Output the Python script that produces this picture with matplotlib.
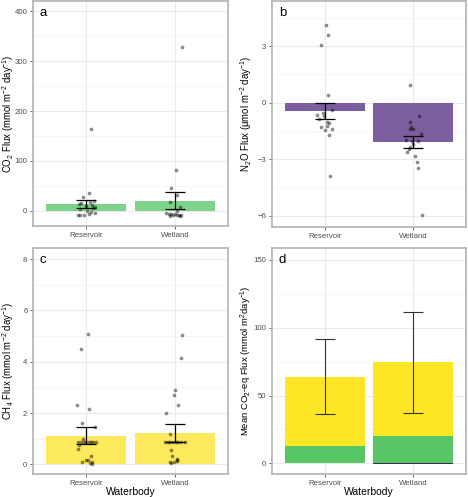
import matplotlib
matplotlib.use("Agg")
import matplotlib.pyplot as plt
import numpy as np

plt.rcParams['font.family'] = ['Liberation Sans', 'DejaVu Sans']
plt.rcParams['mathtext.fontset'] = 'custom'
plt.rcParams['mathtext.rm'] = 'Liberation Sans'
plt.rcParams['mathtext.it'] = 'Liberation Sans:italic'

categories = ["Reservoir", "Wetland"]

# Panel a: CO2 flux (mmol m-2 day-1)
co2_res = [163, 35, 27, 14, 15, 17, 19, 11, 10, 6, 8, 3, 0, -2, -5, -9, -9, -7, -8]
co2_res_jit = [0.05, 0.03, -0.04, -0.08, -0.06, 0.04, 0.09, 0.06, 0.0, 0.08, 0.10, -0.07, 0.01, 0.05, 0.10, -0.07, -0.03, 0.03, -0.09]
co2_wet = [328, 81, 45, 32, 18, 8, 0, -5, -6, -7, -7, -8, -8, -9, -9, -10, -10]
co2_wet_jit = [0.08, 0.01, -0.04, 0.03, -0.06, 0.06, 0.02, -0.10, -0.07, -0.04, 0.0, 0.03, 0.05, -0.02, 0.07, -0.05, 0.06]
co2_mean = [13, 20]
co2_se = [8, 17]

# Panel b: N2O flux (umol m-2 day-1)
n2o_res = [4.11, 3.57, 3.07, 0.43, -0.41, -0.54, -0.64, -0.70, -0.88, -1.02, -1.07, -1.29, -1.23, -1.39, -1.43, -1.70, -3.88]
n2o_res_jit = [0.01, 0.04, -0.05, 0.03, 0.08, -0.02, -0.09, -0.01, -0.07, 0.02, 0.05, -0.05, 0.02, 0.08, 0.0, 0.05, 0.06]
n2o_wet = [0.93, -0.70, -1.02, -1.29, -1.38, -1.38, -1.64, -2.00, -2.04, -2.05, -2.21, -2.36, -2.48, -2.63, -2.84, -3.13, -3.46, -5.98]
n2o_wet_jit = [-0.03, 0.07, -0.03, -0.02, -0.04, 0.0, 0.09, -0.08, -0.01, 0.06, 0.0, -0.03, -0.05, -0.07, 0.02, 0.04, 0.05, 0.10]
n2o_mean = [-0.42, -2.08]
n2o_se = [0.42, 0.30]

# Panel c: CH4 flux (mmol m-2 day-1)
ch4_res = [5.09, 4.49, 2.31, 2.16, 1.60, 1.47, 1.01, 0.88, 0.88, 0.88, 0.88, 0.88, 0.88, 0.88, 0.88,
           0.75, 0.62, 0.32, 0.19, 0.17, 0.09, 0.10, 0.01, 0.04]
ch4_res_jit = [0.02, -0.06, -0.10, 0.03, -0.05, 0.10, -0.04, -0.09, -0.06, -0.03, 0.0, 0.03, 0.05, 0.08, 0.11,
               -0.08, -0.09, 0.05, 0.02, 0.0, -0.05, 0.06, 0.07, 0.04]
ch4_wet = [5.05, 4.15, 2.90, 2.70, 2.30, 2.00, 1.17, 0.88, 0.88, 0.88, 0.88, 0.88, 0.88, 0.88, 0.88,
           0.56, 0.32, 0.19, 0.21, 0.10, 0.09, 0.04, 0.14]
ch4_wet_jit = [0.085, 0.07, 0.005, -0.01, 0.04, -0.10, -0.05, -0.11, -0.08, -0.05, -0.02, 0.01, 0.04, 0.07, 0.11,
               -0.04, -0.03, 0.02, 0.03, -0.06, -0.01, -0.04, 0.02]
ch4_mean = [1.12, 1.22]
ch4_se = [0.34, 0.34]

# Panel d: mean CO2-eq flux (mmol m-2 day-1)
eq_co2 = [13.0, 20.2]
eq_ch4 = [50.9, 54.8]
eq_n2o = [-0.12, -0.62]
eq_lo = [36.1, 37.4]
eq_hi = [91.5, 111.6]

W, H = 468, 497
fig = plt.figure(figsize=(W / 100, H / 100), dpi=100)

def px_axes(x0, y0, x1, y1):
    return fig.add_axes([x0 / W, 1 - y1 / H, (x1 - x0) / W, (y1 - y0) / H])

border = '#b3b3b3'
gridc = '#ebebeb'
tickc = '#4d4d4d'

def style(ax, ylim, majors, minors, label, letter, labx, xlabel=None, lsize=6.9):
    ax.set_xlim(0.4, 2.6)
    ax.set_ylim(*ylim)
    ax.set_xticks([1, 2])
    ax.set_xticklabels(categories)
    ax.set_yticks(majors)
    ax.set_yticks(minors, minor=True)
    ax.set_axisbelow(True)
    ax.grid(True, which='major', color=gridc, lw=0.8)
    ax.grid(True, which='minor', axis='y', color='#f3f3f3', lw=0.5)
    for s in ax.spines.values():
        s.set_color(border)
        s.set_linewidth(1.2)
    ax.tick_params(which='major', length=2.5, width=0.6, color=tickc, labelsize=5.6,
                   labelcolor=tickc, pad=1.5)
    ax.tick_params(which='minor', length=0)
    ax.set_ylabel(label, fontsize=lsize)
    ax.yaxis.set_label_coords(labx, 0.5)
    if xlabel:
        ax.set_xlabel(xlabel, fontsize=7.5, labelpad=0)
    ax.text(0.035, 0.975, letter, transform=ax.transAxes, fontsize=9.5, va='top', ha='left')

def points(ax, vals, jit, xc):
    ax.scatter(np.array(jit) + xc, vals, s=7, color='#000000', alpha=0.45, lw=0, zorder=3)

def errbar(ax, means, ses, color='black', lw=0.9):
    x = np.arange(1, 3)
    ax.errorbar(x, means, yerr=ses, fmt='none', ecolor=color, elinewidth=lw,
                capsize=7.5, capthick=lw, zorder=4)

# a
axa = px_axes(33, 1, 228, 226)
axa.bar([1, 2], co2_mean, width=0.9, color='#7dd38c', zorder=2)
points(axa, co2_res, co2_res_jit, 1)
points(axa, co2_wet, co2_wet_jit, 2)
errbar(axa, co2_mean, co2_se)
style(axa, (-31, 421), [0, 100, 200, 300, 400], [50, 150, 250, 350],
      'CO$_2$ Flux (mmol m$^{-2}$ day$^{-1}$)', 'a', -0.088)

# b
axb = px_axes(272, 1, 466, 227)
axb.bar([1, 2], n2o_mean, width=0.9, color='#7b5e9e', zorder=2)
points(axb, n2o_res, n2o_res_jit, 1)
points(axb, n2o_wet, n2o_wet_jit, 2)
errbar(axb, n2o_mean, n2o_se)
style(axb, (-6.6, 5.4), [-6, -3, 0, 3], [-4.5, -1.5, 1.5, 4.5],
      'N$_2$O Flux (μmol m$^{-2}$ day$^{-1}$)', 'b', -0.095)

# c
axc = px_axes(33, 248, 228, 474)
axc.bar([1, 2], ch4_mean, width=0.9, color='#fde95c', zorder=2)
points(axc, ch4_res, ch4_res_jit, 1)
points(axc, ch4_wet, ch4_wet_jit, 2)
errbar(axc, ch4_mean, ch4_se)
style(axc, (-0.37, 8.43), [0, 2, 4, 6, 8], [1, 3, 5, 7],
      'CH$_4$ Flux (mmol m$^{-2}$ day$^{-1}$)', 'c', -0.088, xlabel='Waterbody')

# d
axd = px_axes(272, 248, 466, 474)
xs = [1, 2]
axd.bar(xs, eq_co2, width=0.9, color='#57c766', zorder=2)
axd.bar(xs, eq_ch4, width=0.9, bottom=eq_co2, color='#fde725', zorder=2)
axd.bar(xs, eq_n2o, width=0.9, color='#3b2b5a', zorder=2)
yc = (np.array(eq_lo) + np.array(eq_hi)) / 2
ye = (np.array(eq_hi) - np.array(eq_lo)) / 2
axd.errorbar(xs, yc, yerr=ye, fmt='none', ecolor='#333333', elinewidth=0.8,
             capsize=7.5, capthick=0.8, zorder=4)
style(axd, (-7.9, 158.8), [0, 50, 100, 150], [25, 75, 125],
      'Mean CO$_2$-eq Flux (mmol m$^{2}$day$^{-1}$)', 'd', -0.095, xlabel='Waterbody', lsize=6.8)

fig.savefig('out.png', dpi=100)
